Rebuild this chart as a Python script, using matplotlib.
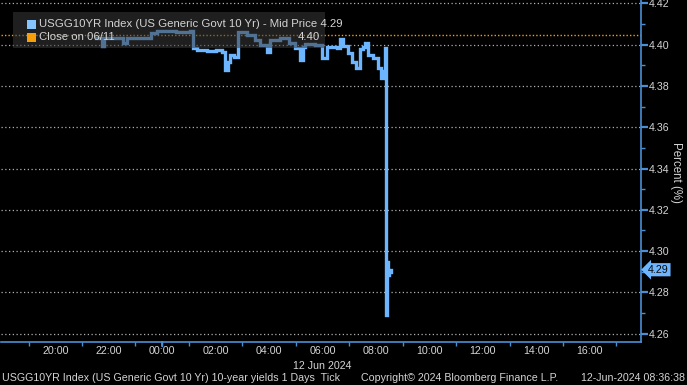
import datetime as dt
import matplotlib
matplotlib.use("Agg")
import matplotlib.pyplot as plt
import matplotlib.dates as mdates
from matplotlib.patches import Rectangle

# tick data (time on 11/12 Jun 2024, yield in %)
times = ["11 21:32", "11 21:46", "11 21:50", "11 22:33", "11 22:40", "11 23:34",
         "11 23:49", "12 00:30", "12 01:03", "12 01:10", "12 01:19", "12 01:40",
         "12 02:00", "12 02:15", "12 02:22", "12 02:28", "12 02:33", "12 02:42",
         "12 02:51", "12 03:10", "12 03:29", "12 03:40", "12 03:56", "12 04:03",
         "12 04:25", "12 04:45", "12 04:59", "12 05:10", "12 05:17", "12 05:21",
         "12 05:44", "12 05:59", "12 06:11", "12 06:33", "12 06:40", "12 06:46",
         "12 06:58", "12 07:07", "12 07:16", "12 07:25", "12 07:31", "12 07:36",
         "12 07:43", "12 07:53", "12 08:05", "12 08:11", "12 08:16", "12 08:20",
         "12 08:22", "12 08:25", "12 08:28", "12 08:30", "12 08:33"]
yields = [4.4032, 4.3993, 4.4030, 4.4008, 4.4030, 4.4056,
          4.4066, 4.4060, 4.4066, 4.3984, 4.3974, 4.3968,
          4.3976, 4.3964, 4.3877, 4.3915, 4.3950, 4.3940,
          4.4061, 4.4047, 4.4022, 4.3998, 4.3964, 4.4022,
          4.4030, 4.4010, 4.3984, 4.3926, 4.3990, 4.4005,
          4.3998, 4.3935, 4.3990, 4.3984, 4.4027, 4.3993,
          4.3960, 4.3916, 4.3887, 4.3980, 4.3990, 4.4008,
          4.3950, 4.3935, 4.3887, 4.3838, 4.3870, 4.3984,
          4.2691, 4.2948, 4.2885, 4.2909, 4.2900]
prev_close = 4.4047
last_price = 4.291
y_ticks = [4.26, 4.28, 4.30, 4.32, 4.34, 4.36, 4.38, 4.40, 4.42]

t = [dt.datetime.strptime("2024-06-" + s, "%Y-%m-%d %H:%M") for s in times]
x_start = dt.datetime(2024, 6, 11, 17, 57)
x_end = dt.datetime(2024, 6, 12, 17, 54)

BLUE = "#6db6ff"
AXBLUE = "#4a8fd6"
ORANGE = "#f5a00a"
TXT = "#d4d4d4"
FS = 7.7
plt.rcParams["font.family"] = ["Liberation Sans", "DejaVu Sans"]

W, H = 687, 385
fig = plt.figure(figsize=(W / 100, H / 100), dpi=100, facecolor="black")
ax = fig.add_axes([0.5 / W, 1 - 342 / H, 640 / W, 342 / H], facecolor="black")

def fx(x):
    return x / W

def fy(y):
    return 1 - y / H

for v in y_ticks:
    ax.axhline(v, color="#b0b0b0", lw=0.9, ls=(0, (1, 2)), zorder=1)
ax.axhline(prev_close, color=ORANGE, lw=1.0, ls=(0, (1, 1.5)), zorder=1)

ax.plot(t, yields, color=BLUE, lw=2.4, drawstyle="steps-post", zorder=3,
        solid_joinstyle="miter")

ax.set_xlim(x_start, x_end)
ax.set_ylim(4.256, 4.4216)

def hour_label(x, pos):
    d = mdates.num2date(x).replace(tzinfo=None)
    if d < x_start + dt.timedelta(hours=1):
        return ""
    return d.strftime("%H:%M")

ax.xaxis.set_major_locator(mdates.HourLocator(byhour=range(0, 24, 2)))
ax.xaxis.set_major_formatter(plt.FuncFormatter(hour_label))
ax.xaxis.set_minor_locator(mdates.HourLocator(byhour=range(1, 24, 2)))
ax.tick_params(axis="x", which="major", length=0, pad=3, labelsize=FS, colors=TXT)
ax.tick_params(axis="x", which="minor", length=3, width=1, color=AXBLUE)

ax.yaxis.tick_right()
ax.set_yticks(y_ticks)
ax.set_yticks([v + 0.01 for v in y_ticks[:-1]], minor=True)
ax.yaxis.set_major_formatter(plt.FormatStrFormatter("%.2f"))
ax.tick_params(axis="y", which="major", length=5, width=1.6, color=AXBLUE,
               labelsize=FS, labelcolor=TXT, pad=1)
ax.tick_params(axis="y", which="minor", length=3, width=1, color=AXBLUE)

for side in ["top", "left"]:
    ax.spines[side].set_visible(False)
for side in ["right", "bottom"]:
    ax.spines[side].set_color(AXBLUE)
    ax.spines[side].set_linewidth(1.2)

fig.text(fx(676), fy(172), "Percent (%)", rotation=270, color=TXT, fontsize=8.3,
         ha="center", va="center")

# midnight marker on the time axis
ax.annotate("", xy=(mdates.date2num(dt.datetime(2024, 6, 12)), 0), xycoords=("data", "axes fraction"),
            xytext=(0, -3), textcoords="offset points",
            arrowprops=dict(arrowstyle="-", color=AXBLUE, lw=1.6, shrinkA=0, shrinkB=0))

# last price tag
ax.text(1.012, last_price, "4.29", transform=ax.get_yaxis_transform(), fontsize=FS,
        color="#0a0a0a", va="center", ha="left",
        bbox=dict(boxstyle="larrow,pad=0.15", fc=BLUE, ec="none"))

# legend box
fig.patches.append(Rectangle((fx(13), fy(48)), fx(312), 36 / H, transform=fig.transFigure,
                             facecolor="#3a3a3a", alpha=0.55, edgecolor="none", zorder=4))
fig.patches.append(Rectangle((fx(27), fy(29)), fx(9), 9 / H, transform=fig.transFigure,
                             facecolor="#86c4ff", edgecolor="none", zorder=5))
fig.patches.append(Rectangle((fx(27), fy(42)), fx(9), 9 / H, transform=fig.transFigure,
                             facecolor=ORANGE, edgecolor="none", zorder=5))
fig.text(fx(39), fy(24), "USGG10YR Index (US Generic Govt 10 Yr) - Mid Price 4.29",
         color=TXT, fontsize=8.2, va="center", zorder=6)
fig.text(fx(39), fy(37.5), "Close on 06/11", color=TXT, fontsize=8.2, va="center", zorder=6)
fig.text(fx(320), fy(37.5), "4.40", color=TXT, fontsize=8.2, va="center", ha="right", zorder=6)

# footer
fig.text(fx(322), fy(366), "12 Jun 2024", color=TXT, fontsize=FS, ha="center", va="center")
fig.text(fx(2), fy(378), "USGG10YR Index (US Generic Govt 10 Yr) 10-year yields 1 Days  Tick",
         color=TXT, fontsize=FS, va="center")
fig.text(fx(361), fy(378), "Copyright\u00a9 2024 Bloomberg Finance L.P.", color=TXT,
         fontsize=FS, va="center")
fig.text(fx(685), fy(378), "12-Jun-2024 08:36:38", color=TXT, fontsize=FS,
         va="center", ha="right")

fig.savefig("out.png", dpi=100, facecolor="black")
